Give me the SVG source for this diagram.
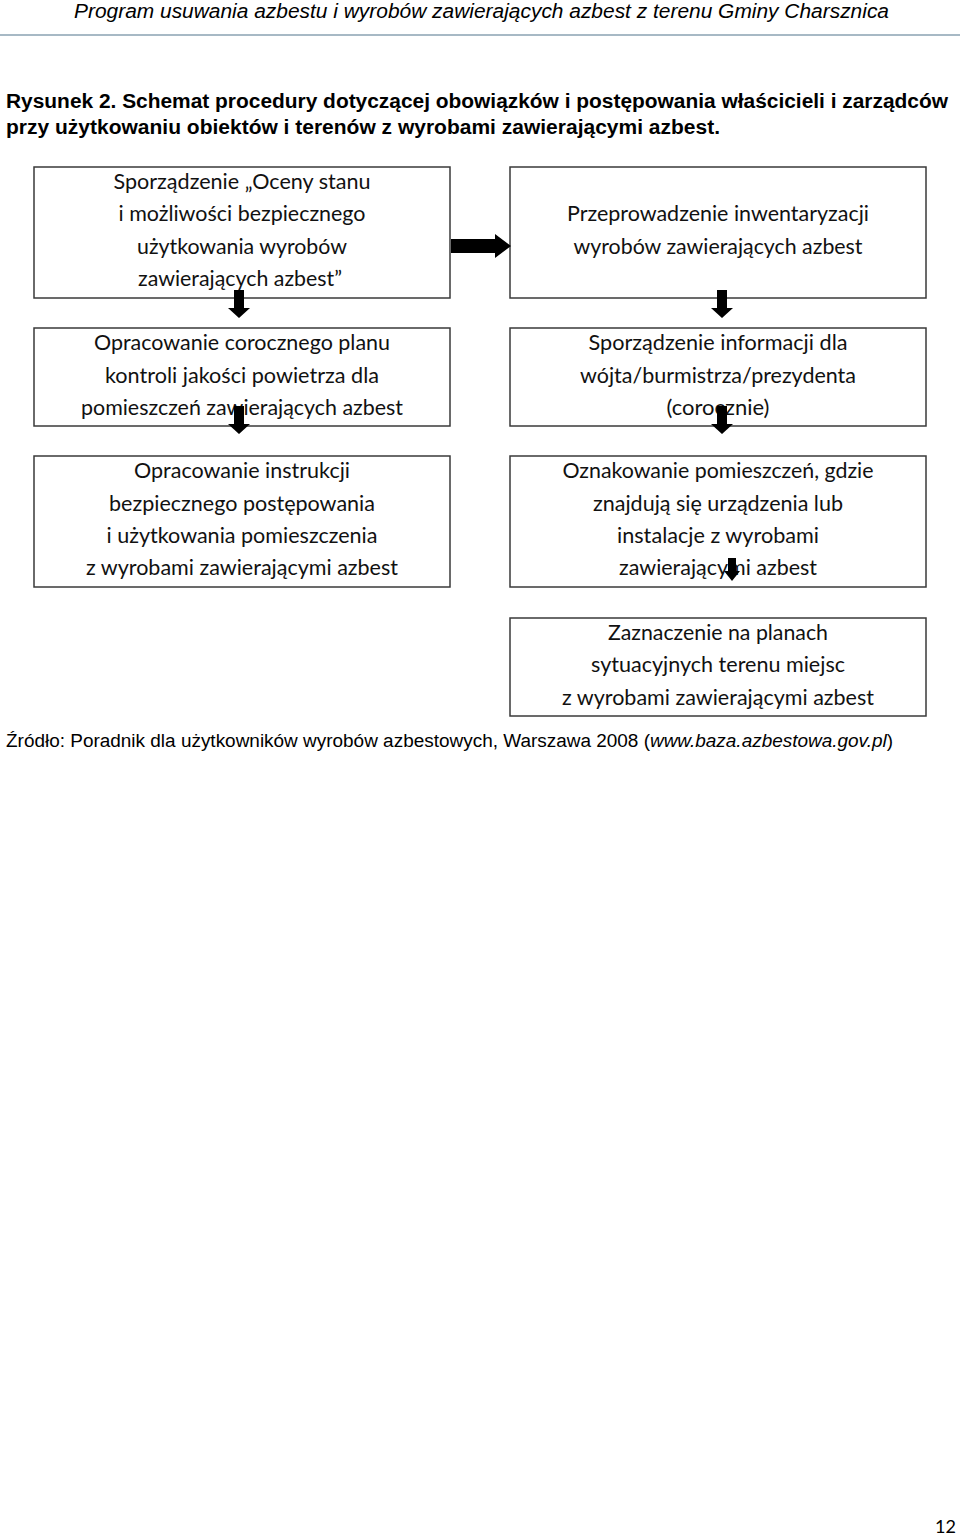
<svg xmlns="http://www.w3.org/2000/svg" width="960" height="1535" viewBox="0 0 960 1535">
<style>
.hdr{font-family:"Liberation Sans",Arial,sans-serif;font-style:italic;font-size:20px;fill:#000}
.ttl{font-family:"Liberation Sans",Arial,sans-serif;font-weight:bold;font-size:19.5px;fill:#000}
.src{font-family:"Liberation Sans",Arial,sans-serif;font-size:18px;fill:#000}
.box{fill:#fff;stroke:#3a3a3a;stroke-width:1.5}
.t{font-family:Lato,"Open Sans",sans-serif;font-size:21px;fill:#111;text-anchor:middle}
.arr{fill:#000}
</style>
<rect width="960" height="1535" fill="#fff"/>
<text class="hdr" x="74" y="18" textLength="815" lengthAdjust="spacingAndGlyphs">Program usuwania azbestu i wyrobów zawierających azbest z terenu Gminy Charsznica</text>
<line x1="0" y1="35" x2="960" y2="35" stroke="#8aa2b2" stroke-width="1.5"/>
<text class="ttl" x="6" y="108" textLength="942" lengthAdjust="spacingAndGlyphs">Rysunek 2. Schemat procedury dotyczącej obowiązków i postępowania właścicieli i zarządców</text>
<text class="ttl" x="6" y="134" textLength="714" lengthAdjust="spacingAndGlyphs">przy użytkowaniu obiektów i terenów z wyrobami zawierającymi azbest.</text>

<g id="n1">
<rect class="box" x="34" y="167" width="416" height="131"/>
<text class="t" x="242" y="189" textLength="257" lengthAdjust="spacingAndGlyphs">Sporządzenie „Oceny stanu</text>
<text class="t" x="242" y="221" textLength="247" lengthAdjust="spacingAndGlyphs">i możliwości bezpiecznego</text>
<text class="t" x="242" y="254" textLength="210" lengthAdjust="spacingAndGlyphs">użytkowania wyrobów</text>
<text class="t" x="240" y="286" textLength="204" lengthAdjust="spacingAndGlyphs">zawierających azbest”</text>
</g>
<g id="n2">
<rect class="box" x="34" y="328" width="416" height="98"/>
<text class="t" x="242" y="350" textLength="296" lengthAdjust="spacingAndGlyphs">Opracowanie corocznego planu</text>
<text class="t" x="242" y="383" textLength="274" lengthAdjust="spacingAndGlyphs">kontroli jakości powietrza dla</text>
<text class="t" x="242" y="415" textLength="322" lengthAdjust="spacingAndGlyphs">pomieszczeń zawierających azbest</text>
</g>
<g id="n3">
<rect class="box" x="34" y="456" width="416" height="131"/>
<text class="t" x="242" y="478" textLength="216" lengthAdjust="spacingAndGlyphs">Opracowanie instrukcji</text>
<text class="t" x="242" y="511" textLength="266" lengthAdjust="spacingAndGlyphs">bezpiecznego postępowania</text>
<text class="t" x="242" y="543" textLength="271" lengthAdjust="spacingAndGlyphs">i użytkowania pomieszczenia</text>
<text class="t" x="242" y="575" textLength="312" lengthAdjust="spacingAndGlyphs">z wyrobami zawierającymi azbest</text>
</g>
<g id="n4">
<rect class="box" x="510" y="167" width="416" height="131"/>
<text class="t" x="718" y="221" textLength="302" lengthAdjust="spacingAndGlyphs">Przeprowadzenie inwentaryzacji</text>
<text class="t" x="718" y="254" textLength="289" lengthAdjust="spacingAndGlyphs">wyrobów zawierających azbest</text>
</g>
<g id="n5">
<rect class="box" x="510" y="328" width="416" height="98"/>
<text class="t" x="718" y="350" textLength="259" lengthAdjust="spacingAndGlyphs">Sporządzenie informacji dla</text>
<text class="t" x="718" y="383" textLength="276" lengthAdjust="spacingAndGlyphs">wójta/burmistrza/prezydenta</text>
<text class="t" x="718" y="415" textLength="103" lengthAdjust="spacingAndGlyphs">(corocznie)</text>
</g>
<g id="n6">
<rect class="box" x="510" y="456" width="416" height="131"/>
<text class="t" x="718" y="478" textLength="311" lengthAdjust="spacingAndGlyphs">Oznakowanie pomieszczeń, gdzie</text>
<text class="t" x="718" y="511" textLength="250" lengthAdjust="spacingAndGlyphs">znajdują się urządzenia lub</text>
<text class="t" x="718" y="543" textLength="202" lengthAdjust="spacingAndGlyphs">instalacje z wyrobami</text>
<text class="t" x="718" y="575" textLength="198" lengthAdjust="spacingAndGlyphs">zawierającymi azbest</text>
</g>
<g id="n7">
<rect class="box" x="510" y="618" width="416" height="98"/>
<text class="t" x="718" y="640" textLength="220" lengthAdjust="spacingAndGlyphs">Zaznaczenie na planach</text>
<text class="t" x="718" y="672" textLength="254" lengthAdjust="spacingAndGlyphs">sytuacyjnych terenu miejsc</text>
<text class="t" x="718" y="705" textLength="312" lengthAdjust="spacingAndGlyphs">z wyrobami zawierającymi azbest</text>
</g>

<g id="connectors">
<polygon class="arr" points="451,239 495,239 495,234 511,246 495,258 495,253 451,253"/>
<polygon class="arr" points="234,290 244,290 244,308 250,308 239,318 228,308 234,308"/>
<polygon class="arr" points="234,406 244,406 244,424 250,424 239,434 228,424 234,424"/>
<polygon class="arr" points="717,290 727,290 727,308 733,308 722,318 711,308 717,308"/>
<polygon class="arr" points="717,406 727,406 727,424 733,424 722,434 711,424 717,424"/>
<polygon class="arr" points="728,558 736,558 736,571 740,571 732,581 724,571 728,571"/>
</g>

<text class="src" x="6" y="747" textLength="887" lengthAdjust="spacingAndGlyphs">Źródło: Poradnik dla użytkowników wyrobów azbestowych, Warszawa 2008 (<tspan font-style="italic">www.baza.azbestowa.gov.pl</tspan>)</text>
<text x="935" y="1533" style="font-family:Lato,'Open Sans',sans-serif;font-size:18px;fill:#000">12</text>
</svg>
